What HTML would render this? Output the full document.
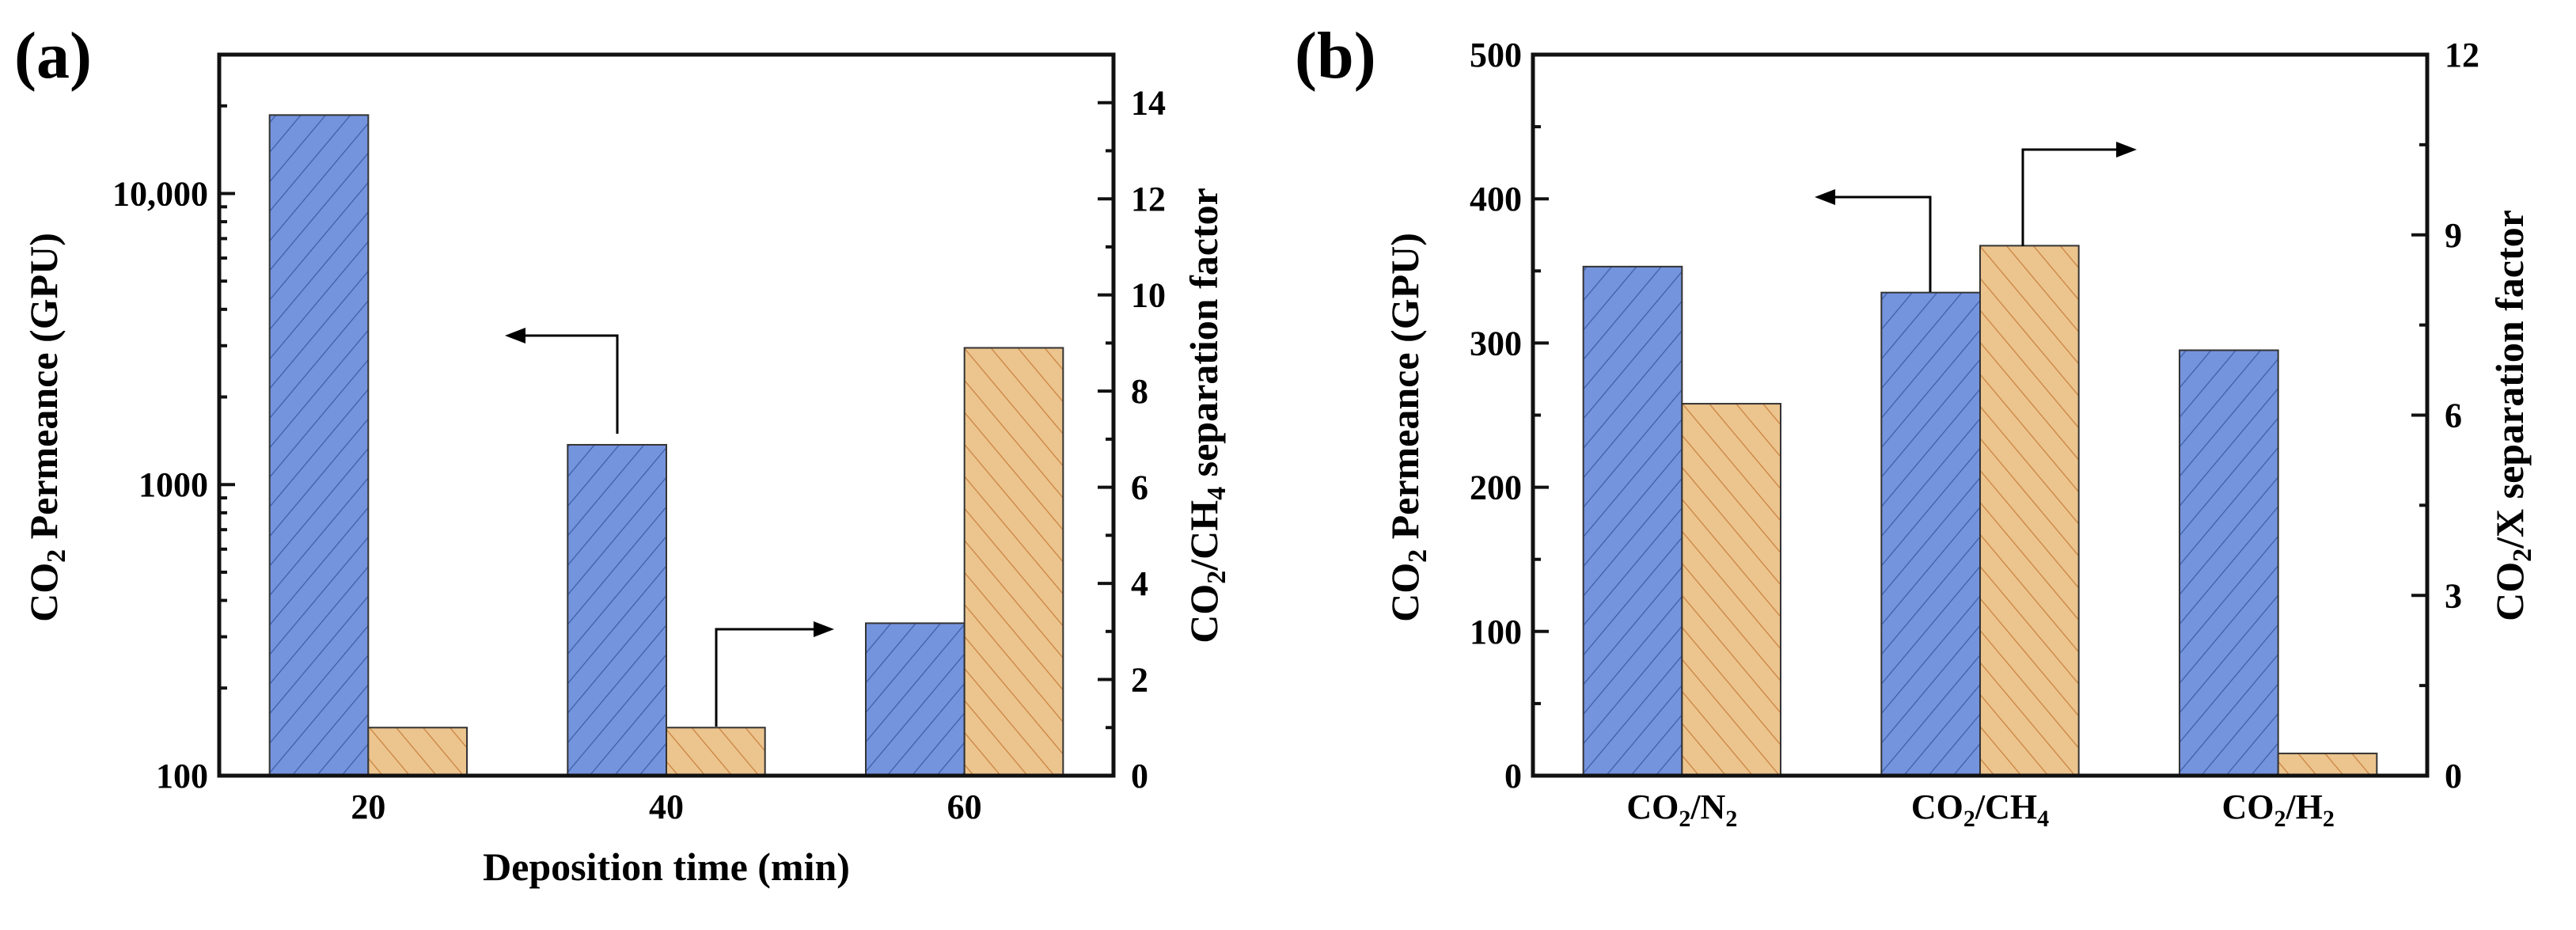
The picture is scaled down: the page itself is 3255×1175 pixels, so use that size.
<!DOCTYPE html>
<html><head><meta charset="utf-8"><style>
html,body{margin:0;padding:0;background:#fff;}
svg, svg text{font-family:"Liberation Serif","DejaVu Serif",serif;font-weight:bold;}
</style></head><body>
<svg id="fig" width="3255" height="1170" viewBox="0 0 3255 1170" xmlns="http://www.w3.org/2000/svg" font-family="Liberation Serif, DejaVu Serif, serif" font-weight="bold">
<defs>
<pattern id="hb" patternUnits="userSpaceOnUse" width="24" height="24" patternTransform="rotate(40)">
<rect width="24" height="24" fill="#7594de"/><line x1="0" y1="0" x2="0" y2="24" stroke="#3d5ea8" stroke-width="2.5"/></pattern>
<pattern id="ho" patternUnits="userSpaceOnUse" width="26" height="26" patternTransform="rotate(-40)">
<rect width="26" height="26" fill="#ecc48e"/><line x1="0" y1="0" x2="0" y2="26" stroke="#c9823f" stroke-width="2.5"/></pattern>
</defs>
<g id="pa"></g>
<g id="pb"></g>
</svg>
<script>
// Panel (a) data
const catsA = ["20","40","60"];
const permA = [18600, 1370, 334];
const sepA = [1.0, 1.0, 8.9];
const leftTicksA = [100, 1000, 10000];
const leftLabelsA = ["100","1000","10,000"];
const rightTicksA = [0,2,4,6,8,10,12,14];
// Panel (b) data
const catsB = [["CO","2","/N","2"],["CO","2","/CH","4"],["CO","2","/H","2"]];
const permB = [353, 335, 295];
const sepB = [6.19, 8.82, 0.37];
const leftTicksB = [0,100,200,300,400,500];
const rightTicksB = [0,3,6,9,12];

const NS="http://www.w3.org/2000/svg";
const FF="Liberation Serif, DejaVu Serif, serif";
function mk(parent,tag,attrs,text){const e=document.createElementNS(NS,tag);for(const k in attrs)e.setAttribute(k,attrs[k]);if(tag==='text'){e.setAttribute('font-family',FF);e.setAttribute('font-weight','bold');}if(text!==undefined)e.textContent=text;parent.appendChild(e);return e;}

function arrow(g,x,y0,y1,x2,name){
  const a=mk(g,'g',{});
  
  
  const dir=x2>x?1:-1;
  mk(a,'polyline',{points:`${x},${y0} ${x},${y1} ${x2-dir*22},${y1}`,fill:'none',stroke:'#000','stroke-width':3});
  mk(a,'polygon',{points:`${x2},${y1} ${x2-dir*26},${y1-10} ${x2-dir*26},${y1+10}`,fill:'#000'});
}

function panel(g,cfg){
  const L=cfg.L,R=cfg.R,T=69,B=980,W=R-L,H=B-T;
  const yl=cfg.yl, yr=cfg.yr;
  const band=W/3, bw=band*0.331;
  cfg.cats.forEach((c,i)=>{
    const cx=L+band*(i+0.5);
    const yb=yl(cfg.perm[i]);
    const b=mk(g,'rect',{x:cx-bw,y:yb,width:bw,height:B-yb,fill:'url(#hb)',stroke:'#333','stroke-width':2});
    
    
    const yo=yr(cfg.sep[i]);
    const o=mk(g,'rect',{x:cx,y:yo,width:bw,height:B-yo,fill:'url(#ho)',stroke:'#333','stroke-width':2});
    
    
  });
  const f=mk(g,'rect',{x:L,y:T,width:W,height:H,fill:'none',stroke:'#111','stroke-width':5});
  
  
  cfg.leftMinor.forEach(v=>{const y=yl(v);mk(g,'line',{x1:L,x2:L+10,y1:y,y2:y,stroke:'#111','stroke-width':4});});
  cfg.leftTicks.forEach((v,i)=>{const y=yl(v);mk(g,'line',{x1:L,x2:L+20,y1:y,y2:y,stroke:'#111','stroke-width':4});
    const t=mk(g,'text',{x:L-14,y:y+15,'text-anchor':'end','font-size':44},cfg.leftLabels[i]);
    
    });
  cfg.rightMinor.forEach(v=>{const y=yr(v);mk(g,'line',{x1:R,x2:R-10,y1:y,y2:y,stroke:'#111','stroke-width':4});});
  cfg.rightTicks.forEach(v=>{const y=yr(v);mk(g,'line',{x1:R,x2:R-20,y1:y,y2:y,stroke:'#111','stroke-width':4});
    const t=mk(g,'text',{x:R+22,y:y+15,'text-anchor':'start','font-size':44},String(v));
    
    });
  cfg.cats.forEach((c,i)=>{
    const cx=L+band*(i+0.5);
    const t=mk(g,'text',{x:cx,y:1034,'text-anchor':'middle','font-size':44});
    
    
    if(Array.isArray(c)){
      mk(t,'tspan',{},c[0]);mk(t,'tspan',{'font-size':30,dy:10},c[1]);mk(t,'tspan',{dy:-10},c[2]);mk(t,'tspan',{'font-size':30,dy:10},c[3]);
    } else t.textContent=c;
  });
  cfg.extra(g,{L,R,T,B});
}

const pa=document.getElementById('pa');
const T=69,B=980,H=911;
const ylA=v=>B-(Math.log10(v)-2)/Math.log10(300)*H;
const yrA=v=>B-v/15*H;
const minorA=[];[100,1000,10000].forEach(d=>{for(let k=2;k<=9;k++){if(d*k<=30000)minorA.push(d*k);}});
panel(pa,{L:277,R:1407,yl:ylA,yr:yrA,cats:catsA,perm:permA,sep:sepA,
  leftTicks:leftTicksA,leftLabels:leftLabelsA,leftMinor:minorA,
  rightTicks:rightTicksA,rightMinor:[1,3,5,7,9,11,13],
  extra:(g)=>{
    const lab=mk(g,'text',{x:18,y:98,'font-size':84},'(a)');
    
    
    const xt=mk(g,'text',{x:842,y:1112,'text-anchor':'middle','font-size':50},'Deposition time (min)');
    
    
    const lt=mk(g,'text',{transform:'translate(72,540) rotate(-90)','text-anchor':'middle','font-size':50});
    
    
    mk(lt,'tspan',{},'CO');mk(lt,'tspan',{'font-size':34,dy:10},'2');mk(lt,'tspan',{dy:-10},' Permeance (GPU)');
    const rt=mk(g,'text',{transform:'translate(1538,525) rotate(-90)','text-anchor':'middle','font-size':50});
    
    
    mk(rt,'tspan',{},'CO');mk(rt,'tspan',{'font-size':34,dy:10},'2');mk(rt,'tspan',{dy:-10},'/CH');mk(rt,'tspan',{'font-size':34,dy:10},'4');mk(rt,'tspan',{dy:-10},' separation factor');
    arrow(g,780,548,424,638,'arrow-to-left-axis');
    arrow(g,905,918,795,1054,'arrow-to-right-axis');
  }});

const pb=document.getElementById('pb');
const ylB=v=>B-v/500*H;
const yrB=v=>B-v/12*H;
panel(pb,{L:1937,R:3067,yl:ylB,yr:yrB,cats:catsB,perm:permB,sep:sepB,
  leftTicks:leftTicksB,leftLabels:leftTicksB.map(String),leftMinor:[50,150,250,350,450],
  rightTicks:rightTicksB,rightMinor:[1.5,4.5,7.5,10.5],
  extra:(g)=>{
    const lab=mk(g,'text',{x:1636,y:98,'font-size':84},'(b)');
    
    
    const lt=mk(g,'text',{transform:'translate(1792,540) rotate(-90)','text-anchor':'middle','font-size':50});
    
    
    mk(lt,'tspan',{},'CO');mk(lt,'tspan',{'font-size':34,dy:10},'2');mk(lt,'tspan',{dy:-10},' Permeance (GPU)');
    const rt=mk(g,'text',{transform:'translate(3188,525) rotate(-90)','text-anchor':'middle','font-size':50});
    
    
    mk(rt,'tspan',{},'CO');mk(rt,'tspan',{'font-size':34,dy:10},'2');mk(rt,'tspan',{dy:-10},'/X separation factor');
    arrow(g,2439,369,249,2293,'arrow-to-left-axis');
    arrow(g,2556,311,189,2700,'arrow-to-right-axis');
  }});
</script>
</body></html>
